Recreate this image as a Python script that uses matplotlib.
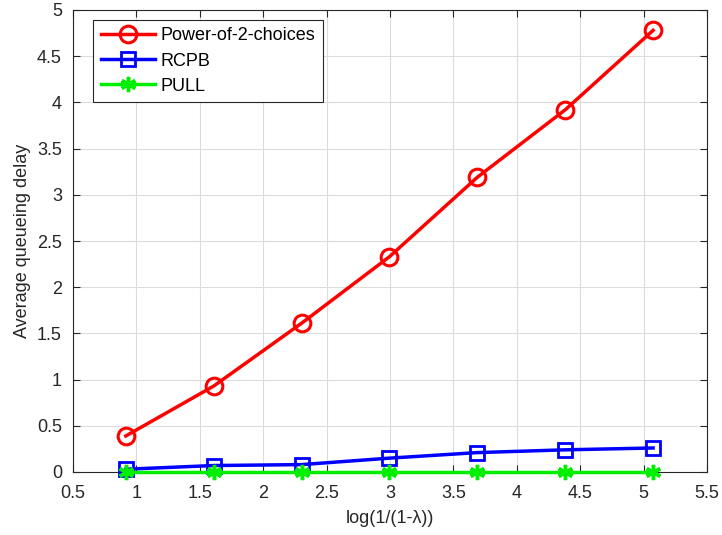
import numpy as np
import matplotlib
matplotlib.use("Agg")
import matplotlib.pyplot as plt

plt.rcParams['font.family'] = ['Liberation Sans', 'DejaVu Sans']

# x = log(1/(1-lambda))
lam = np.array([0.6, 0.8, 0.9, 0.95, 0.975, 0.9875, 0.99375])
x = np.log(1.0 / (1.0 - lam))

pow2 = [0.39, 0.93, 1.61, 2.33, 3.19, 3.92, 4.78]
rcpb = [0.03, 0.07, 0.08, 0.15, 0.21, 0.24, 0.26]
pull = [0.0, 0.0, 0.0, 0.0, 0.0, 0.0, 0.0]

xticks = [0.5, 1, 1.5, 2, 2.5, 3, 3.5, 4, 4.5, 5, 5.5]
yticks = [0, 0.5, 1, 1.5, 2, 2.5, 3, 3.5, 4, 4.5, 5]

fig = plt.figure(figsize=(7.22, 5.35), dpi=100)
ax = fig.add_axes([73/722, 1-472/535, (707-73)/722, (472-10)/535])

ax.plot(x, pow2, '-o', color='red', lw=2.5, ms=12, mfc='none', mew=2.2,
        label='Power-of-2-choices', clip_on=False, zorder=3)
ax.plot(x, rcpb, '-s', color='blue', lw=2.5, ms=10, mfc='none', mew=2,
        label='RCPB', clip_on=False, zorder=3)
ax.plot(x, pull, '-', marker=(6, 2, 0), color='#00ee00', lw=2.5, ms=11, mew=2.5,
        label='PULL', clip_on=False, zorder=3)

ax.set_xlim(0.5, 5.5)
ax.set_ylim(0, 5)
ax.set_xticks(xticks)
ax.set_xticklabels([f'{t:g}' for t in xticks])
ax.set_yticks(yticks)
ax.set_yticklabels([f'{t:g}' for t in yticks])
ax.grid(True, color='#dcdcdc', lw=0.8)
ax.set_axisbelow(True)
ax.tick_params(direction='in', length=5, labelsize=13, top=True, right=True,
               color='#262626', labelcolor='#262626')
ax.tick_params(axis='x', pad=9)
ax.tick_params(axis='y', pad=8)
for s in ax.spines.values():
    s.set_color('#262626')
    s.set_linewidth(0.8)

ax.set_xlabel('log(1/(1-λ))', fontsize=13, color='#262626', labelpad=6)
ax.set_ylabel('Average queueing delay', fontsize=13, color='#262626', labelpad=4)

leg = ax.legend(loc='upper left', bbox_to_anchor=(0.032, 0.978), fontsize=13, fancybox=False,
                edgecolor='#262626', framealpha=1, handlelength=3.0, borderpad=0.4,
                labelspacing=0.45, handletextpad=0.35, borderaxespad=0)
leg.get_frame().set_linewidth(0.8)

fig.savefig('out.png', dpi=100)
